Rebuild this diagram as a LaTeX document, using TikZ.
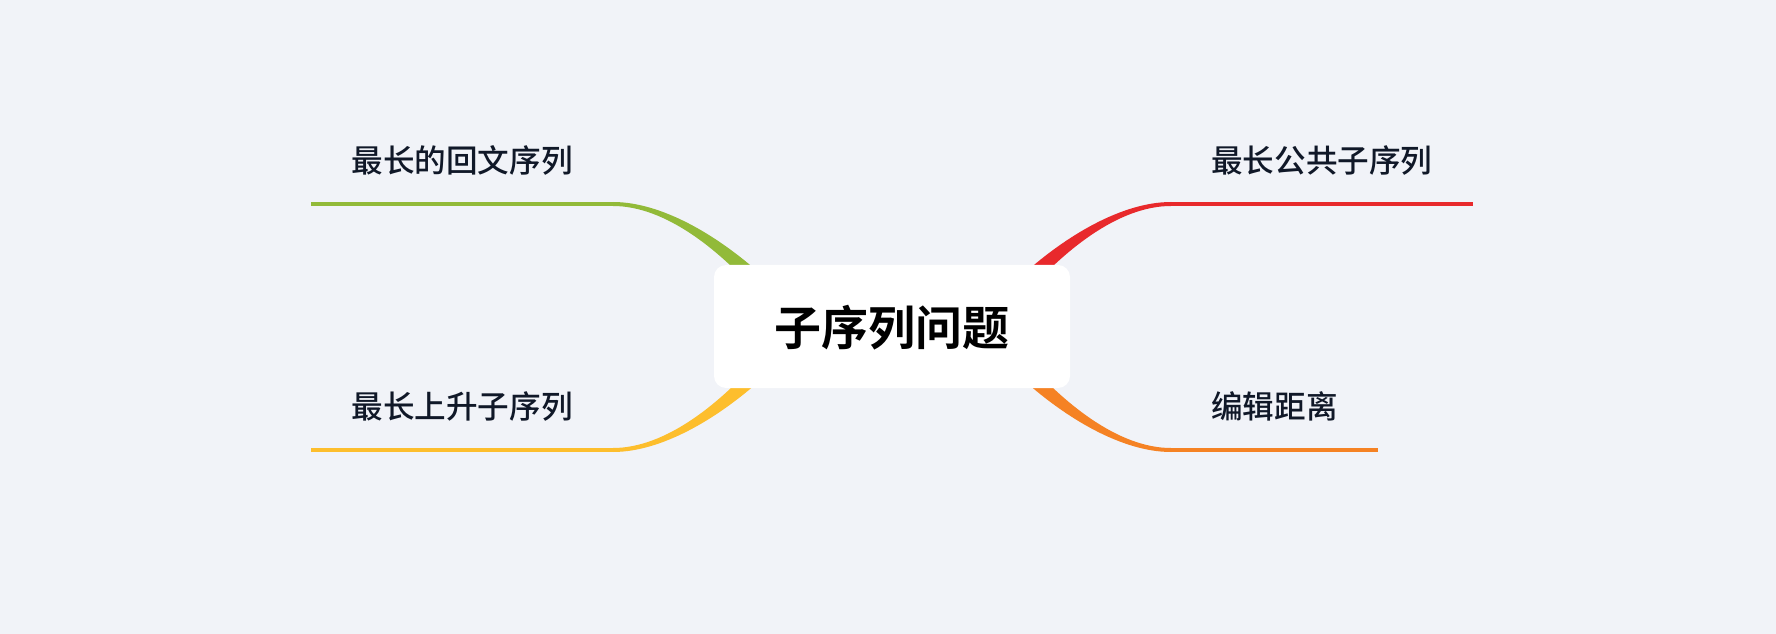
\documentclass[tikz,border=0pt]{standalone}
\usepackage{fontspec}
\usepackage{xcolor}
\usetikzlibrary{positioning, calc}
\newfontfamily\cjk{Noto Sans CJK SC}[BoldFont={Noto Sans CJK SC Bold}]
\newfontfamily\cjkmed{Noto Sans CJK SC Medium}
\definecolor{bggray}{RGB}{241,243,248}
\definecolor{inkblue}{RGB}{16,24,40}
\definecolor{branchgreen}{RGB}{146,186,57}
\definecolor{branchred}{RGB}{232,41,44}
\definecolor{branchyellow}{RGB}{253,190,45}
\definecolor{branchorange}{RGB}{245,130,36}

\begin{document}
\begin{tikzpicture}[x=0.75pt, y=-0.75pt,
  topic/.style={inkblue, inner xsep=30pt, inner ysep=23.6pt, text depth=0pt, font=\cjkmed\fontsize{23.7}{28}\selectfont},
  rootbox/.style={fill=white, rounded corners=9pt, minimum width=267pt, minimum height=92.25pt, text height=28.2pt, text depth=0pt, font=\cjk\bfseries\fontsize{35.25}{42}\selectfont},
  underline/.style={line width=3pt}]
% Background
\fill[bggray] (0,0) rectangle (1776,634);
\useasboundingbox (0,0) rectangle (1776,634);

% Topics
\node[topic, anchor=south east] (lps) at (613,204) {最长的回文序列};
\node[topic, anchor=south east] (lis) at (613,450) {最长上升子序列};
\node[topic, anchor=south west] (lcs) at (1171,204) {最长公共子序列};
\node[topic, anchor=south west] (edit) at (1171,450) {编辑距离};

% Branch ends hidden behind the root
\coordinate (lps-in) at (775,300);
\coordinate (lis-in) at (775,354);
\coordinate (lcs-in) at (1009,300);
\coordinate (edit-in) at (1009,354);

% Tapered branches
\fill[branchgreen] ($(lps.south east)+(0,-2)$) .. controls +(52,0) and +(-52.6,-53.4) .. ($(lps-in)+(6.5,-6)$)
  -- ($(lps-in)+(-6.5,6)$) .. controls +(-47.4,-56.6) and +(52,0) .. ($(lps.south east)+(0,2)$) -- cycle;
\fill[branchyellow] ($(lis.south east)+(0,2)$) .. controls +(52,0) and +(-52.6,53.4) .. ($(lis-in)+(6.5,6)$)
  -- ($(lis-in)+(-6.5,-6)$) .. controls +(-47.4,56.6) and +(52,0) .. ($(lis.south east)+(0,-2)$) -- cycle;
\fill[branchred] ($(lcs.south west)+(0,-2)$) .. controls +(-52,0) and +(52.6,-53.4) .. ($(lcs-in)+(-6.5,-6)$)
  -- ($(lcs-in)+(6.5,6)$) .. controls +(47.4,-56.6) and +(-52,0) .. ($(lcs.south west)+(0,2)$) -- cycle;
\fill[branchorange] ($(edit.south west)+(0,2)$) .. controls +(-52,0) and +(52.6,53.4) .. ($(edit-in)+(-6.5,6)$)
  -- ($(edit-in)+(6.5,-6)$) .. controls +(47.4,56.6) and +(-52,0) .. ($(edit.south west)+(0,-2)$) -- cycle;

% Underlines
\draw[underline, branchgreen] (lps.south west) -- (lps.south east);
\draw[underline, branchyellow] (lis.south west) -- (lis.south east);
\draw[underline, branchred] (lcs.south west) -- (lcs.south east);
\draw[underline, branchorange] (edit.south west) -- (edit.south east);

% Root
\node[rootbox] (root) at (892,326.5) {子序列问题};
\end{tikzpicture}
\end{document}
